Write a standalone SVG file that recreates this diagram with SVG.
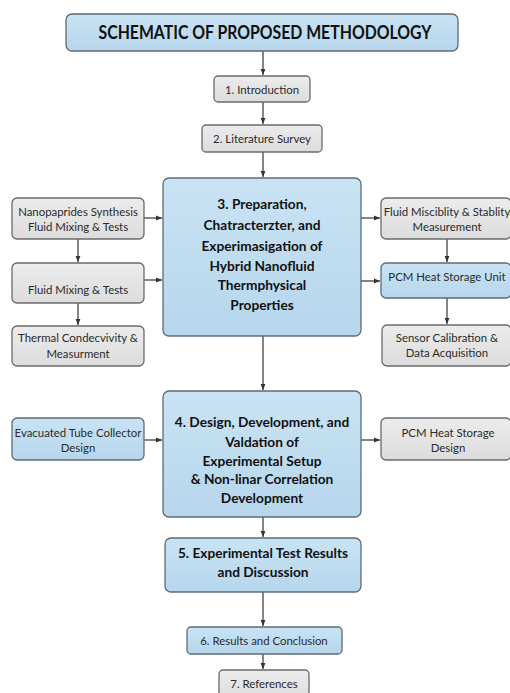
<svg xmlns="http://www.w3.org/2000/svg" width="510" height="693" viewBox="0 0 510 693">
<defs>
<linearGradient id="gb" x1="0" y1="0" x2="0" y2="1"><stop offset="0" stop-color="#c9e3f4"/><stop offset="1" stop-color="#b6d6ec"/></linearGradient>
<linearGradient id="gg" x1="0" y1="0" x2="0" y2="1"><stop offset="0" stop-color="#ececec"/><stop offset="1" stop-color="#dcdcdc"/></linearGradient>
<marker id="ah" viewBox="0 0 10 10" refX="10" refY="5" markerWidth="6" markerHeight="6" markerUnits="userSpaceOnUse" orient="auto"><path d="M0,1 L10,5 L0,9 z" fill="#333"/></marker>
</defs>
<style>
.b{fill:url(#gb);stroke:#5d6b78;stroke-width:1.3}
.g{fill:url(#gg);stroke:#6a6a6a;stroke-width:1.3}
text{font-family:Lato,"Liberation Sans",sans-serif;fill:#2a2a2a;text-anchor:middle}
.t{font-size:11.4px}
.h{font-size:13.7px;font-weight:bold;fill:#111}
.c line{stroke:#333;stroke-width:1.2;marker-end:url(#ah)}
</style>
<rect width="510" height="693" fill="#fff"/>
<g class="c">
<line x1="263" y1="51" x2="263" y2="75"/>
<line x1="263" y1="102" x2="263" y2="124"/>
<line x1="263" y1="152" x2="263" y2="177"/>
<line x1="144" y1="218" x2="162" y2="218"/>
<line x1="144" y1="280" x2="162" y2="280"/>
<line x1="78" y1="239" x2="78" y2="262"/>
<line x1="78" y1="303" x2="78" y2="325"/>
<line x1="361" y1="218" x2="380" y2="218"/>
<line x1="361" y1="281" x2="380" y2="281"/>
<line x1="447" y1="239" x2="447" y2="262"/>
<line x1="447" y1="298" x2="447" y2="324"/>
<line x1="263" y1="336" x2="263" y2="390"/>
<line x1="144" y1="440" x2="162" y2="440"/>
<line x1="361" y1="440" x2="380" y2="440"/>
<line x1="263" y1="517" x2="263" y2="537"/>
<line x1="263" y1="592" x2="263" y2="626"/>
<line x1="263" y1="654" x2="263" y2="669"/>
</g>
<g id="title"><rect class="b" x="66" y="14" width="392" height="37" rx="6"/><text x="265" y="39" style="font-size:18px;font-weight:bold;fill:#111" textLength="333" lengthAdjust="spacingAndGlyphs">SCHEMATIC OF PROPOSED METHODOLOGY</text></g>
<g id="n1"><rect class="g" x="214" y="76" width="96" height="26" rx="4"/><text class="t" x="262" y="93.5">1. Introduction</text></g>
<g id="n2"><rect class="g" x="202" y="125" width="120" height="27" rx="4"/><text class="t" x="262" y="142.5">2. Literature Survey</text></g>
<g id="n3"><rect class="b" x="163" y="178" width="198" height="158" rx="6"/>
<text class="h" x="262" y="209">3. Preparation,</text>
<text class="h" x="262" y="230">Chatracterzter, and</text>
<text class="h" x="262" y="251">Experimasigation of</text>
<text class="h" x="262" y="271">Hybrid Nanofluid</text>
<text class="h" x="262" y="290">Thermphysical</text>
<text class="h" x="262" y="310">Properties</text></g>
<g id="nA"><rect class="g" x="12" y="198" width="132" height="41" rx="5"/><text class="t" x="78" y="216">Nanopaprides Synthesis</text><text class="t" x="78" y="231">Fluid Mixing &amp; Tests</text></g>
<g id="nB"><rect class="g" x="12" y="263" width="132" height="40" rx="5"/><text class="t" x="78" y="294">Fluid Mixing &amp; Tests</text></g>
<g id="nC"><rect class="g" x="12" y="326" width="132" height="40" rx="5"/><text class="t" x="78" y="342">Thermal Condecvivity &amp;</text><text class="t" x="78" y="358">Measurment</text></g>
<g id="nD"><rect class="g" x="381" y="198" width="130" height="41" rx="5"/><text class="t" x="447" y="216">Fluid Misciblity &amp; Stablity</text><text class="t" x="447" y="231">Measurement</text></g>
<g id="nE"><rect class="b" x="381" y="263" width="130" height="35" rx="5"/><text class="t" x="447" y="281">PCM Heat Storage Unit</text></g>
<g id="nF"><rect class="g" x="382" y="325" width="129" height="41" rx="5"/><text class="t" x="447" y="342">Sensor Calibration &amp;</text><text class="t" x="447" y="357">Data Acquisition</text></g>
<g id="n4"><rect class="b" x="163" y="391" width="198" height="126" rx="6"/>
<text class="h" x="262" y="427">4. Design, Development, and</text>
<text class="h" x="262" y="447">Valdation of</text>
<text class="h" x="262" y="466">Experimental Setup</text>
<text class="h" x="262" y="484">&amp; Non-linar Correlation</text>
<text class="h" x="262" y="503">Development</text></g>
<g id="nG"><rect class="b" x="12" y="418" width="132" height="42" rx="5"/><text class="t" x="78" y="437">Evacuated Tube Collector</text><text class="t" x="78" y="452">Design</text></g>
<g id="nH"><rect class="g" x="381" y="418" width="130" height="42" rx="5"/><text class="t" x="448" y="437">PCM Heat Storage</text><text class="t" x="448" y="452">Design</text></g>
<g id="n5"><rect class="b" x="165" y="538" width="196" height="54" rx="6"/><text class="h" x="263" y="558">5. Experimental Test Results</text><text class="h" x="263" y="577">and Discussion</text></g>
<g id="n6"><rect class="b" x="187" y="627" width="155" height="27" rx="4"/><text class="t" x="264" y="644.5">6. Results and Conclusion</text></g>
<g id="n7"><rect class="g" x="219" y="670" width="90" height="30" rx="4"/><text class="t" x="264" y="688">7. References</text></g>
</svg>
